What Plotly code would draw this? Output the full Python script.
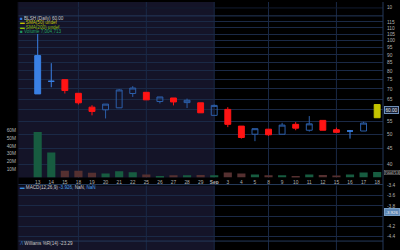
import datetime as dt
import numpy as np
import plotly.graph_objects as go

# ---------------- data ----------------
dates = ["2025-08-13", "2025-08-14", "2025-08-15", "2025-08-18", "2025-08-19",
         "2025-08-20", "2025-08-21", "2025-08-22", "2025-08-25", "2025-08-26",
         "2025-08-27", "2025-08-28", "2025-08-29", "2025-09-02", "2025-09-03",
         "2025-09-04", "2025-09-05", "2025-09-08", "2025-09-09", "2025-09-10",
         "2025-09-11", "2025-09-12", "2025-09-15", "2025-09-16", "2025-09-17",
         "2025-09-18"]
tick_labels = ["13", "14", "15", "18", "19", "20", "21", "22", "25", "26", "27",
               "28", "29", "Sep", "3", "4", "5", "8", "9", "10", "11", "12", "15",
               "16", "17", "18"]
opens = [67.5, 74.1, 75.0, 67.8, 61.2, 60.0, 60.9, 67.7, 68.3, 63.8, 65.5, 63.3,
         63.2, 57.6, 60.2, 53.2, 50.1, 52.0, 50.1, 53.9, 51.6, 55.5, 51.8, 51.3,
         51.3, 56.6]
highs = [105.1, 84.7, 75.0, 67.8, 62.1, 62.6, 70.0, 71.5, 68.3, 66.0, 65.5, 65.2,
         63.2, 62.4, 61.2, 53.2, 52.2, 52.0, 54.5, 54.8, 57.3, 55.5, 52.6, 51.7,
         54.9, 62.4]
lows = [67.5, 70.9, 67.7, 62.4, 57.6, 56.3, 60.9, 66.0, 64.6, 62.9, 62.0, 60.8,
        58.7, 57.6, 52.8, 48.5, 47.6, 49.5, 50.1, 51.6, 51.1, 51.6, 50.8, 48.5,
        51.3, 56.6]
closes = [89.6, 74.1, 69.2, 63.2, 59.3, 62.6, 69.5, 70.5, 64.6, 66.0, 63.6, 64.4,
          58.7, 62.0, 53.9, 48.9, 52.2, 49.9, 53.6, 52.4, 54.1, 51.6, 50.8, 51.3,
          54.4, 62.4]
volumes_m = [57.5, 31.6, 8.75, 8.75, 6.25, 5.0, 7.9, 6.6, 3.75, 2.1, 2.9, 2.9,
             3.3, 2.9, 6.3, 5.0, 3.75, 2.9, 2.9, 1.7, 3.75, 3.4, 2.7, 3.75, 6.3,
             7.0]
last_price = 60.00
last_volume = 7004713
price_ticks = [40, 45, 50, 55, 60, 65, 70, 75, 80, 85, 90, 95, 100, 105, 110, 115]
volume_ticks_m = [10, 20, 30, 40, 50, 60]
macd_ticks = [-4.4, -4.2, -4.0, -3.8, -3.6, -3.4]
macd_value = -3.926
wr_value = -23.29

# ---------------- helpers ----------------
W, H = 400, 250
def PX(x):
    return x / W
def PY(y):
    return 1 - y / H

FONT = "Liberation Sans"
NAVY = "#141428"
GRID = "#1a2946"
BORDER = "#24395a"
TXT = "#b4b4b4"

n = len(dates)
idx = np.arange(n)
x_range = [-1.45, n - 1 + 0.43]
X0, X1 = PX(18), PX(383)

price_dom = [PY(177), PY(14)]
macd_dom = [PY(241), PY(185)]
log40 = np.log10(40)
ppd = 314.0  # pixels per decade
price_range = [log40 - 13 / ppd, log40 + 150 / ppd]
vol_range = [0, (177 - 14) / 0.8]

# style groups derived from the data
def group(i):
    if i == n - 1:
        return "live"
    if i == 0 or abs(closes[i] - opens[i]) < 1e-9:
        return "solid"
    return "up" if closes[i] > opens[i] else "down"

styles = {
    "down": dict(line="#ff1414", fill="#ff1414"),
    "up": dict(line="#2c5ea8", fill="rgba(0,0,0,0)"),
    "solid": dict(line="#3a80e4", fill="#3a80e4"),
    "live": dict(line="#c4c400", fill="#c4c400"),
}

fig = go.Figure()

# volume (base axis, drawn below candles)
vol_colors = ["#175c40" if closes[i] >= opens[i] else "#553030" for i in range(n)]
fig.add_trace(go.Bar(x=idx, y=volumes_m, marker=dict(color=vol_colors, line=dict(width=0)),
                     width=0.6, xaxis="x", yaxis="y", showlegend=False, hoverinfo="skip"))

for g, st in styles.items():
    sel = [i for i in range(n) if group(i) == g]
    if not sel:
        continue
    fig.add_trace(go.Candlestick(
        x=[int(i) for i in sel],
        open=[opens[i] for i in sel], high=[highs[i] for i in sel],
        low=[lows[i] for i in sel], close=[closes[i] for i in sel],
        increasing=dict(line=dict(color=st["line"], width=1), fillcolor=st["fill"]),
        decreasing=dict(line=dict(color=st["line"], width=1), fillcolor=st["fill"]),
        whiskerwidth=0, xaxis="x", yaxis="y2", showlegend=False, hoverinfo="skip"))

# MACD pane placeholder trace (no data)
fig.add_trace(go.Scatter(x=[None], y=[None], xaxis="x2", yaxis="y3", showlegend=False))

# ---------------- shapes ----------------
shapes = []
first_sep = next(i for i, d in enumerate(dates) if d.startswith("2025-09"))
for y0, y1 in [(price_dom[0], 1.0), (0.0, macd_dom[1])]:
    shapes.append(dict(type="rect", xref="x", yref="paper", x0=x_range[0], x1=first_sep,
                       y0=y0, y1=y1, fillcolor=NAVY, line=dict(width=0), layer="below"))
# weekly vertical grid lines
dd = [dt.date.fromisoformat(d) for d in dates]
week_starts = [i for i in range(1, n) if dd[i].weekday() < dd[i - 1].weekday()]
for i in week_starts:
    for y0, y1 in [(price_dom[0], 1.0), (0.0, macd_dom[1])]:
        shapes.append(dict(type="line", xref="x", yref="paper", x0=i, x1=i, y0=y0, y1=y1,
                           line=dict(color=GRID, width=1), layer="below"))
# pane borders
for yy in [14, 184, 241]:
    shapes.append(dict(type="line", xref="paper", yref="paper", x0=X0, x1=X1,
                       y0=PY(yy), y1=PY(yy), line=dict(color=BORDER, width=1)))
shapes.append(dict(type="line", xref="paper", yref="paper", x0=X0, x1=X1,
                   y0=PY(6), y1=PY(6), line=dict(color="#121c30", width=1), layer="below"))
shapes.append(dict(type="line", xref="paper", yref="paper", x0=X1, x1=X1, y0=0, y1=1,
                   line=dict(color=BORDER, width=1)))
shapes.append(dict(type="line", xref="paper", yref="paper", x0=X0, x1=X0, y0=0, y1=1,
                   line=dict(color="#0c0c18", width=1)))
# last price line through the live candle
shapes.append(dict(type="line", xref="x", yref="y2", x0=n - 1 - 0.31, x1=n - 1 + 0.31,
                   y0=np.log10(last_price), y1=np.log10(last_price),
                   line=dict(color="#e2e27a", width=1)))

# ---------------- annotations ----------------
ann = []
def text(x, y, s, color=TXT, size=4.6, xanchor="left", **kw):
    ann.append(dict(xref="paper", yref="paper", x=PX(x), y=PY(y), text=s, showarrow=False,
                    xanchor=xanchor, yanchor="middle", font=dict(family=FONT, size=size, color=color),
                    borderpad=0, **kw))

# legend block
text(18.5, 16.8, "<span style='color:#3a80e4'>■</span> BLSH (Daily) %.2f" % last_price, "#c8c8c8")
text(18.5, 21.1, "<span style='color:#c4c400'>▬</span> SMA(50) undef", "#c4c400")
text(18.5, 25.4, "<span style='color:#8cc000'>▬</span> SMA(200) undef", "#90b800")
text(18.5, 29.8, "<span style='color:#1f9a60'>■</span> Volume " + f"{last_volume:,}", "#22a060")
text(18.5, 186.5, "<span style='color:#3a90e0'>▬</span> MACD(12,26,9) "
     "<span style='color:#4aa0ea'>%.3f,</span> NaN, <span style='color:#4aa0ea'>NaN</span>" % macd_value,
     "#c8c8c8")
text(18.5, 243.8, "<span style='color:#3a90e0'>⁄\\</span> Williams %R(14) " + "%.2f" % wr_value, "#c8c8c8")
text(386, 6, "10", TXT, 4.6)

# value boxes on the right axis
ann.append(dict(xref="paper", yref="y2", x=PX(384), y=np.log10(last_price), text="%.2f" % last_price,
                showarrow=False, xanchor="left", yanchor="middle", bgcolor="#16223a",
                bordercolor="#7090b8", borderwidth=1, borderpad=0.5,
                font=dict(family=FONT, size=4.6, color="#e8e8e8")))
ann.append(dict(xref="paper", yref="y", x=PX(383.5), y=last_volume / 1e6, text=str(last_volume),
                showarrow=False, xanchor="left", yanchor="middle", bgcolor="#0c0c0c",
                bordercolor="#707070", borderwidth=0.6, borderpad=0,
                font=dict(family=FONT, size=3.7, color="#d0d0d0")))
ann.append(dict(xref="paper", yref="y3", x=PX(384), y=macd_value, text="%.3f" % macd_value,
                showarrow=False, xanchor="left", yanchor="middle", bgcolor="#5c86b4",
                bordercolor="#7aa0c8", borderwidth=1, borderpad=0.5,
                font=dict(family=FONT, size=4.4, color="#f0f0f0")))

# ---------------- layout ----------------
tickfont = dict(family=FONT, size=4.8, color=TXT)
ticktext_x = ["<b>%s</b>" % t if not t.isdigit() else t for t in tick_labels]
# labels hidden behind the value boxes in the reference
price_ticktext = ["" if abs(v - last_price) < 2.5 else str(v) for v in price_ticks]
macd_ticktext = ["" if abs(v - macd_value) < 0.1 else "%.1f" % v for v in macd_ticks]
fig.update_layout(
    width=W, height=H, margin=dict(l=0, r=0, t=0, b=0),
    paper_bgcolor="#000000", plot_bgcolor="rgba(0,0,0,0)",
    boxgap=0.38, bargap=0.4,
    xaxis=dict(domain=[X0, X1], range=x_range, anchor="y", tickvals=list(idx), ticktext=ticktext_x,
               showgrid=False, zeroline=False, showline=False, ticks="", tickfont=tickfont,
               ticklabelstandoff=1, rangeslider=dict(visible=False), fixedrange=True),
    yaxis=dict(domain=price_dom, range=vol_range, side="left", anchor="x",
               tickvals=volume_ticks_m, ticktext=[f"{v}M" for v in volume_ticks_m],
               showgrid=False, zeroline=False, showline=False, ticks="", tickfont=tickfont,
               ticklabelstandoff=1),
    yaxis2=dict(overlaying="y", type="log", range=price_range, side="right", anchor="x",
                tickvals=price_ticks, ticktext=price_ticktext,
                showgrid=True, gridcolor=GRID, gridwidth=1, zeroline=False, showline=False,
                ticks="", tickfont=tickfont, ticklabelstandoff=3),
    xaxis2=dict(domain=[X0, X1], range=x_range, anchor="y3", showticklabels=False,
                showgrid=False, zeroline=False, showline=False, ticks=""),
    yaxis3=dict(domain=macd_dom, range=[-4.49, -3.4], side="right", anchor="x2",
                tickvals=macd_ticks, ticktext=macd_ticktext,
                showgrid=True, gridcolor=GRID, gridwidth=1, zeroline=False, showline=False,
                ticks="", tickfont=tickfont, ticklabelstandoff=3),
    shapes=shapes, annotations=ann, showlegend=False,
)

fig.write_html("out.html")
